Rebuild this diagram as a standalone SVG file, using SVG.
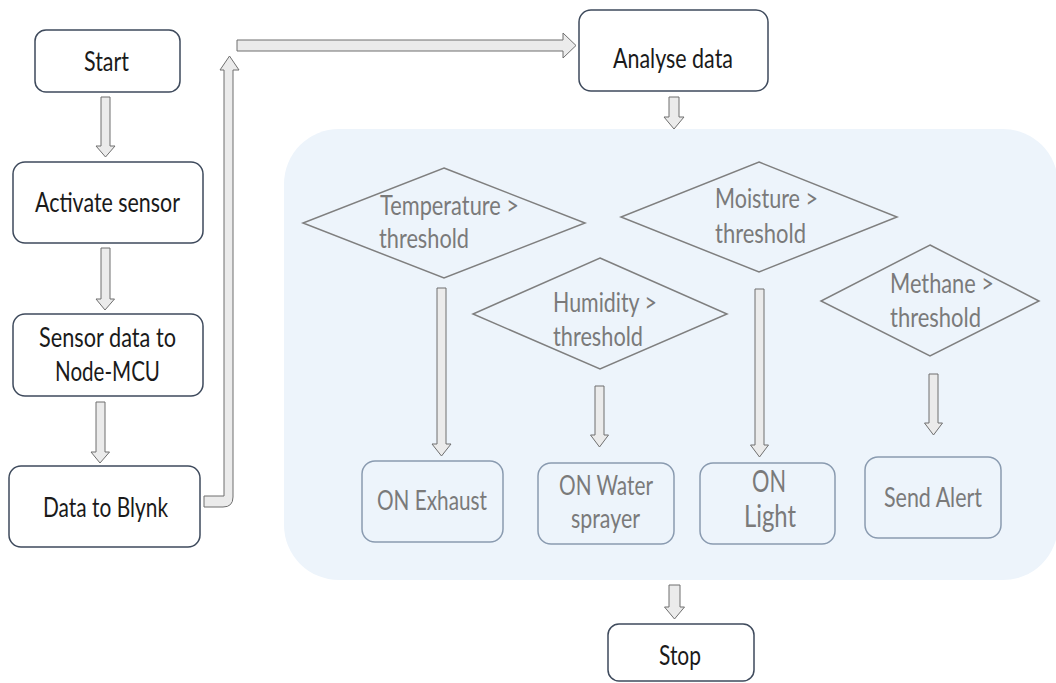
<svg xmlns="http://www.w3.org/2000/svg" width="1056" height="683" viewBox="0 0 1056 683">
  <style>
    .box { fill: #ffffff; stroke: #3e4a5c; stroke-width: 1.5; }
    .sub { fill: none; stroke: #8a9bb0; stroke-width: 1.5; }
    .dia { fill: none; stroke: #7f7f7f; stroke-width: 1.5; }
    .arrow { fill: #ebebeb; stroke: #6f6f6f; stroke-width: 1; stroke-linejoin: miter; }
    .t { font-family: Lato, "Open Sans", sans-serif; font-size: 27px; fill: #1a1a1a; }
    .g { font-family: Lato, "Open Sans", sans-serif; font-size: 27px; fill: #7a7a7a; }
    .big { font-size: 31px; }
  </style>

  <rect width="1056" height="683" fill="#ffffff"/>

  <!-- shaded decision panel -->
  <rect id="panel" x="284" y="129" width="774" height="451" rx="55" ry="55" fill="#edf4fb"/>

  <!-- block-arrow connectors -->
  <g id="connectors">
    <path class="arrow" d="M101 97 H110 V146 H115 L105.5 157 L96 146 H101 Z"/>
    <path class="arrow" d="M101 248 H110 V299 H114.5 L105 310 L96 299 H101 Z"/>
    <path class="arrow" d="M96 402 H105 V452 H109.5 L100 463 L91 452 H96 Z"/>
    <path class="arrow" d="M204 496 H224 V70 H220 L229.5 56 L239 70 H233 V497 Q233 507 223 507 H204 Z"/>
    <path class="arrow" d="M237 40 H563 V33 L576 45.5 L563 58 V51 H237 Z"/>
    <path class="arrow" d="M669 97 H679 V117 H684 L674 129 L664 117 H669 Z"/>
    <path class="arrow" d="M437 288 H446 V444 H451 L441.5 456 L432 444 H437 Z"/>
    <path class="arrow" d="M595 386 H604 V435 H608.5 L599.5 447 L590.5 435 H595 Z"/>
    <path class="arrow" d="M755 289 H764 V445 H768.5 L759.5 457 L750.5 445 H755 Z"/>
    <path class="arrow" d="M929 374 H938 V423 H942.5 L933.5 435 L924.5 423 H929 Z"/>
    <path class="arrow" d="M669 585 H680 V607 H684.5 L674.5 619 L664.5 607 H669 Z"/>
  </g>

  <!-- process steps -->
  <g id="start">
    <rect class="box" x="35" y="30" width="145" height="62" rx="11"/>
    <text class="t" x="84" y="71" textLength="45" lengthAdjust="spacingAndGlyphs">Start</text>
  </g>
  <g id="activate">
    <rect class="box" x="13" y="162" width="190" height="81" rx="12"/>
    <text class="t" x="35" y="212" textLength="145" lengthAdjust="spacingAndGlyphs">Activate sensor</text>
  </g>
  <g id="to-nodemcu">
    <rect class="box" x="13" y="314" width="190" height="82" rx="12"/>
    <text class="t" x="39" y="347" textLength="137" lengthAdjust="spacingAndGlyphs">Sensor data to</text>
    <text class="t" x="55" y="381" textLength="105" lengthAdjust="spacingAndGlyphs">Node-MCU</text>
  </g>
  <g id="to-blynk">
    <rect class="box" x="9" y="466" width="191" height="81" rx="12"/>
    <text class="t" x="43" y="517" textLength="125" lengthAdjust="spacingAndGlyphs">Data to Blynk</text>
  </g>
  <g id="analyse">
    <rect class="box" x="579" y="10" width="189" height="81" rx="12"/>
    <text class="t" x="613" y="68" textLength="120" lengthAdjust="spacingAndGlyphs">Analyse data</text>
  </g>

  <!-- threshold decisions -->
  <g id="temperature">
    <polygon class="dia" points="444,168 585,223 444,278 303,223"/>
    <text class="g" x="380" y="215" textLength="139" lengthAdjust="spacingAndGlyphs">Temperature &gt;</text>
    <text class="g" x="379" y="248" textLength="90" lengthAdjust="spacingAndGlyphs">threshold</text>
  </g>
  <g id="humidity">
    <polygon class="dia" points="600,258 727,314 600,369 473,314"/>
    <text class="g" x="553" y="312" textLength="104" lengthAdjust="spacingAndGlyphs">Humidity &gt;</text>
    <text class="g" x="553" y="346" textLength="90" lengthAdjust="spacingAndGlyphs">threshold</text>
  </g>
  <g id="moisture">
    <polygon class="dia" points="759,162 897,217 759,272 621,217"/>
    <text class="g" x="715" y="208" textLength="103" lengthAdjust="spacingAndGlyphs">Moisture &gt;</text>
    <text class="g" x="715" y="243" textLength="91" lengthAdjust="spacingAndGlyphs">threshold</text>
  </g>
  <g id="methane">
    <polygon class="dia" points="930,245 1039,301 930,356 821,301"/>
    <text class="g" x="890" y="293" textLength="104" lengthAdjust="spacingAndGlyphs">Methane &gt;</text>
    <text class="g" x="890" y="327" textLength="91" lengthAdjust="spacingAndGlyphs">threshold</text>
  </g>

  <!-- actions -->
  <g id="exhaust">
    <rect class="sub" x="362" y="461" width="141" height="81" rx="13"/>
    <text class="g" x="377" y="510" textLength="110" lengthAdjust="spacingAndGlyphs">ON Exhaust</text>
  </g>
  <g id="sprayer">
    <rect class="sub" x="538" y="463" width="136" height="81" rx="13"/>
    <text class="g" x="559" y="495" textLength="94" lengthAdjust="spacingAndGlyphs">ON Water</text>
    <text class="g" x="571" y="528" textLength="69" lengthAdjust="spacingAndGlyphs">sprayer</text>
  </g>
  <g id="light">
    <rect class="sub" x="700" y="463" width="135" height="81" rx="13"/>
    <text class="g big" x="752" y="492" textLength="34" lengthAdjust="spacingAndGlyphs">ON</text>
    <text class="g big" x="744" y="527" textLength="52" lengthAdjust="spacingAndGlyphs">Light</text>
  </g>
  <g id="alert">
    <rect class="sub" x="865" y="457" width="136" height="81" rx="13"/>
    <text class="g" x="884" y="507" textLength="98" lengthAdjust="spacingAndGlyphs">Send Alert</text>
  </g>

  <g id="stop">
    <rect class="box" x="608" y="624" width="146" height="57" rx="11"/>
    <text class="t" x="659" y="665" textLength="42" lengthAdjust="spacingAndGlyphs">Stop</text>
  </g>
</svg>
